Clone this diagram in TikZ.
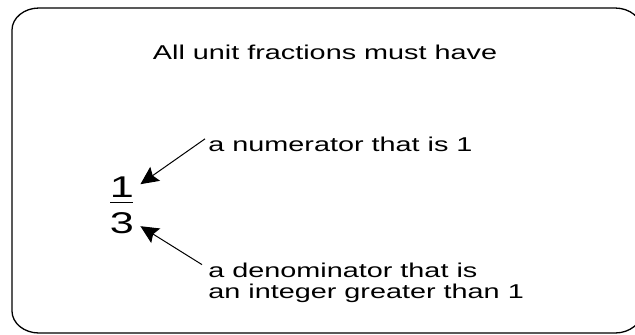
\documentclass[tikz,border=0pt]{standalone}
\usepackage{fontspec}
\setmainfont{Liberation Sans}[FakeStretch=1.44]
\usetikzlibrary{arrows.meta, calc}

\begin{document}
\begin{tikzpicture}[
  x=0.5pt, y=-0.5pt,
  frame/.style={draw=black, line width=0.65pt},
  lbl/.style={inner sep=0pt, font=\fontsize{10}{10.5}\selectfont, align=left},
  digit/.style={inner sep=0pt, font=\fontsize{15}{17}\selectfont},
  pointer/.style={-{Stealth[length=9pt, width=8.5pt, inset=1.5pt]}, line width=0.5pt},
  bar/.style={line width=0.8pt}
]
\useasboundingbox (0,0) rectangle (635,334);
\clip (0,0) rectangle (635,334);

% the rounded frame, cut off at the right and bottom
\draw[frame] (12,30) arc[start angle=180, end angle=270, x radius=27, y radius=22]
  -- (615,8) arc[start angle=270, end angle=360, x radius=27, y radius=22]
  -- (642,311) arc[start angle=0, end angle=90, x radius=27, y radius=22]
  -- (39,333) arc[start angle=90, end angle=180, x radius=27, y radius=22]
  -- cycle;

% heading
\node[lbl, anchor=base] (title) at (325,59) {All unit fractions must have};

% the fraction one third
\node[digit, anchor=base] (num) at (122,197) {1};
\node[digit, anchor=base] (den) at (122,233.5) {3};
\draw[bar] ($(num.base)+(-12,5.5)$) -- ($(num.base)+(11,5.5)$);

% the two labels
\node[lbl, anchor=base west] (numlbl) at (208,151) {a numerator that is 1};
\node[lbl, anchor=base west] (denlbl) at (208,298) {a denominator that is\\an integer greater than 1};

% arrows from the labels
\draw[pointer] ([shift={(-3,-5)}]numlbl.west) -- ([shift={(6,-2.5)}]num.east);
\draw[pointer] ([shift={(-6,2.5)}]denlbl.north west) -- ([shift={(6,3)}]den.east);
\end{tikzpicture}
\end{document}
